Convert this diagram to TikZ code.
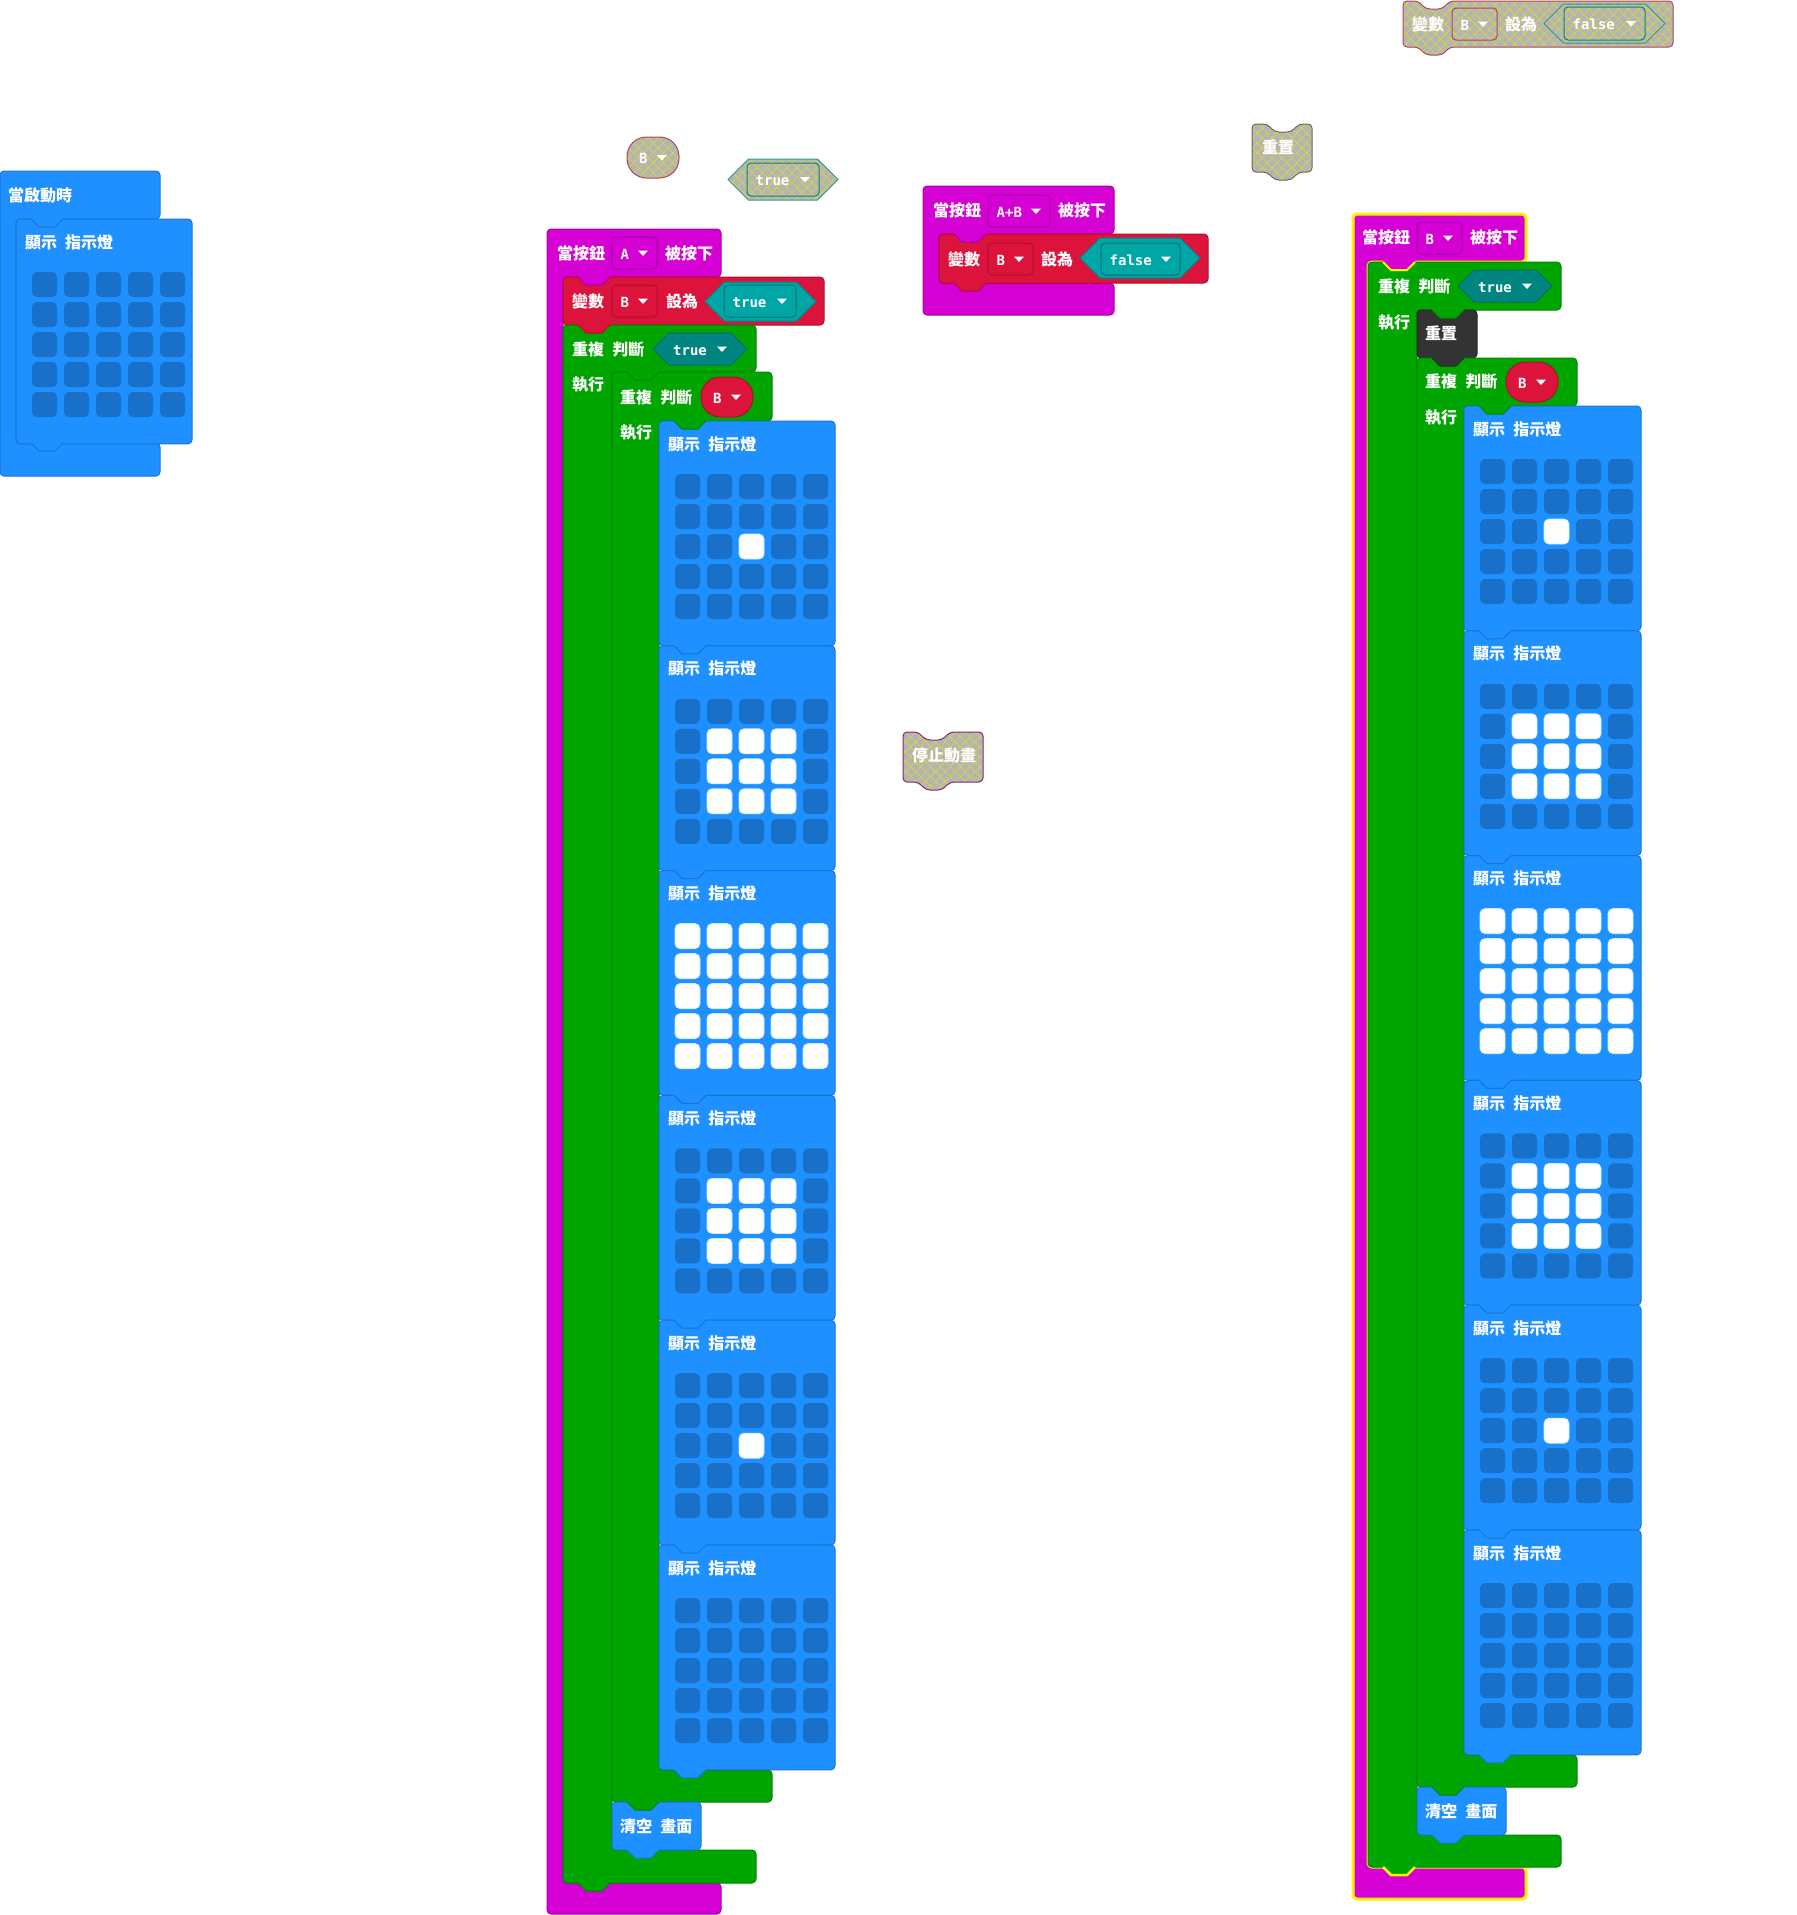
\documentclass[tikz,border=0pt]{standalone}
\usepackage{fontspec}
\usepackage{tikz}
\usetikzlibrary{patterns.meta}
\newfontfamily\cjk{Noto Sans CJK TC}[WordSpace=2.2]
\newfontfamily\ddfont{DejaVu Sans Mono}

\definecolor{evt}{RGB}{212,0,212}
\definecolor{basic}{RGB}{30,144,255}
\definecolor{ledoff}{RGB}{24,112,200}
\definecolor{vars}{RGB}{220,20,60}
\definecolor{loops}{RGB}{0,165,0}
\definecolor{logica}{RGB}{0,165,166}
\definecolor{logicb}{RGB}{0,133,128}
\definecolor{ctrl}{RGB}{51,51,51}
\definecolor{disgrey}{RGB}{180,180,180}
\definecolor{hatch}{RGB}{218,218,50}
\definecolor{selyel}{RGB}{255,242,0}

% block outlines
\newcommand{\cblk}[8]{\path[#1] (#2,#3) -- (#4,#3) -- (#4,#5) -- ({#2+#6},#5) -- ({#2+#6},#7) -- (#4,#7) -- (#4,#8) -- (#2,#8) -- cycle;}
\newcommand{\sblk}[5]{\path[#1] (#2,#3) -- ({#2+15},#3) -- ({#2+23},{#3+8}) -- ({#2+39},{#3+8}) -- ({#2+47},#3) -- (#4,#3) -- (#4,#5) -- ({#2+47},#5) -- ({#2+39},{#5+8}) -- ({#2+23},{#5+8}) -- ({#2+15},#5) -- (#2,#5) -- cycle;}
\newcommand{\ntab}[4]{\fill[#3] ({#1+15},{#2-2}) -- ({#1+15},{#2}) -- ({#1+23},{#2+8}) -- ({#1+39},{#2+8}) -- ({#1+47},{#2}) -- ({#1+47},{#2-2}) -- cycle;
  \draw[line width=1pt,#4] ({#1+15},{#2}) -- ({#1+23},{#2+8}) -- ({#1+39},{#2+8}) -- ({#1+47},{#2});}
\newcommand{\hexa}[5]{\path[#1] (#2,{(#3+#5)/2}) -- ({#2+(#5-#3)/2},#3) -- ({#4-(#5-#3)/2},#3) -- (#4,{(#3+#5)/2}) -- ({#4-(#5-#3)/2},#5) -- ({#2+(#5-#3)/2},#5) -- cycle;}
\newcommand{\pill}[5]{\path[#1, rounded corners=19.5pt] (#2,#3) rectangle (#4,#5);}
\newcommand{\ddarrow}[2]{\fill[white] ({#1},{#2-2.5}) -- ({#1+10},{#2-2.5}) -- ({#1+5},{#2+3}) -- cycle;}
\newcommand{\ddbox}[6]{\path[#1, rounded corners=4pt] (#2,#3) rectangle (#4,#5);
  \node[ddlabel] at ({#2+8.5},{(#3+#5)/2+6}) {#6};
  \ddarrow{#4-19}{(#3+#5)/2}}
% led screen
\newcommand{\leds}[3]{\foreach \r in {0,...,4} \foreach \c in {0,...,4} {
    \pgfmathtruncatemacro\lit{max(abs(\r-2),abs(\c-2))<#3}
    \ifnum\lit=1 \path[ledon] ({#1+16+32*\c},{#2+53+30*\r}) rectangle ++(25,25);
    \else \path[ledoffbox] ({#1+16+32*\c},{#2+53+30*\r}) rectangle ++(25,25);\fi}}
\newcommand{\showblk}[4]{\path[basicbox] (#1,{#2}) rectangle (#3,{#2+224.8});
  \node[lbl] at ({#1+9},{#2+29}) {顯示 指示燈};
  \leds{#1}{#2}{#4}}

\begin{document}
\begin{tikzpicture}[x=1pt,y=-1pt]
        % Setup the styles for the blocks
        \tikzset{lbl/.style={anchor=base west, inner sep=0pt, text=white,
                             font=\cjk\bfseries\fontsize{16}{16}\selectfont},
                 ddlabel/.style={anchor=base west, inner sep=0pt, text=white,
                                 font=\ddfont\bfseries\fontsize{14}{14}\selectfont},
                 evtbox/.style={fill=evt, draw=evt!78!black, line width=1pt, rounded corners=4pt},
                 selbox/.style={evtbox, draw=selyel, line width=3pt},
                 basicbox/.style={fill=basic, draw=basic!82!black, line width=1pt, rounded corners=4pt},
                 varbox/.style={fill=vars, draw=vars!78!black, line width=1pt, rounded corners=4pt},
                 loopbox/.style={fill=loops, draw=loops!80!black, line width=1pt, rounded corners=4pt},
                 ctrlbox/.style={fill=ctrl, draw=ctrl!80!black, line width=1pt, rounded corners=4pt},
                 logicabox/.style={fill=logica, draw=logica!80!black, line width=1pt},
                 logicainner/.style={fill=logica, draw=logica!70!black, line width=1pt},
                 logicbbox/.style={fill=logicb, draw=logicb!80!black, line width=1pt},
                 ledoffbox/.style={fill=ledoff, rounded corners=5pt},
                 ledon/.style={fill=white, draw=white!80!basic, line width=0.8pt, rounded corners=5pt},
                 dis/.style={preaction={fill=disgrey},
                             preaction={pattern={Lines[angle=45,distance=7pt,line width=0.6pt]}, pattern color=hatch},
                             preaction={pattern={Lines[angle=-45,distance=7pt,line width=0.6pt]}, pattern color=hatch},
                             line width=1pt},
                 disvar/.style={dis, draw=vars!55!gray, rounded corners=4pt},
                 dishexa/.style={dis, draw=logica!65!gray},
                 disteal/.style={dis, draw=logicb},
                 disreset/.style={dis, draw=gray!80!black, rounded corners=4pt},
                 disstop/.style={dis, draw=violet!70!gray, rounded corners=4pt}}

        \useasboundingbox (0,0) rectangle (1797,1915);

        % Draw the start block
        \cblk{basicbox}{0}{171}{160}{219}{16}{443}{476}
        \showblk{16}{219}{192}{0}
        \ntab{16}{219}{basic}{basic!82!black}
        \ntab{16}{443}{basic}{basic!82!black}
        \node[lbl] (start) at (8,201) {當啟動時};

        % Draw the button A stack
        \cblk{evtbox}{547}{229}{721}{277}{16}{1883}{1914}
        \path[varbox] (563,277) rectangle (824,325);
        \cblk{loopbox}{563}{325}{756}{372}{49}{1850}{1883}
        \cblk{loopbox}{612}{372}{772}{421}{47}{1770}{1802}
        \foreach \m [count=\i from 0] in {1,2,3,2,1,0} {\showblk{659}{421+224.8*\i}{835}{\m}}
        \path[basicbox] (612,1802) rectangle (701,1850);
        \ntab{563}{277}{evt}{evt!78!black}
        \ntab{563}{325}{vars}{vars!78!black}
        \ntab{612}{372}{loops}{loops!80!black}
        \ntab{659}{421}{loops}{loops!80!black}
        \foreach \i in {1,...,6} {\ntab{659}{421+224.8*\i}{basic}{basic!82!black}}
        \ntab{612}{1802}{loops}{loops!80!black}
        \ntab{612}{1850}{basic}{basic!82!black}
        \ntab{563}{1883}{loops}{loops!80!black}

        \node[lbl] (whenA) at (557,259) {當按鈕};
        \ddbox{evtbox}{612}{237}{657}{269}{A}
        \node[lbl] (pressA) at (665,259) {被按下};
        \node[lbl] (setA) at (572,307) {變數};
        \ddbox{varbox}{612}{285}{657}{317}{B}
        \node[lbl] (toA) at (666,307) {設為};
        \hexa{logicabox}{705}{282}{816}{321}
        \ddbox{logicainner}{724}{285}{796}{317}{true}
        \node[lbl] (whileA) at (572,355) {重複 判斷};
        \hexa{logicbbox}{653}{333}{747}{365}
        \node[ddlabel] (condA) at (673,355) {true};
        \ddarrow{717}{349}
        \node[lbl] (doA) at (572,390) {執行};
        \node[lbl] (whileAA) at (620,403) {重複 判斷};
        \pill{varbox}{701}{377}{753}{417}
        \node[ddlabel] (condAA) at (713,403) {B};
        \ddarrow{731}{397}
        \node[lbl] (doAA) at (620,438) {執行};
        \node[lbl] (clearA) at (620,1832) {清空 畫面};

        % Draw the button A+B stack
        \cblk{evtbox}{923}{186}{1114}{234}{16}{283}{315}
        \path[varbox] (939,234) rectangle (1208,283);
        \ntab{939}{234}{evt}{evt!78!black}
        \ntab{939}{283}{vars}{vars!78!black}
        \node[lbl] (whenAB) at (933,216) {當按鈕};
        \ddbox{evtbox}{988}{195}{1050}{227}{A+B}
        \node[lbl] (pressAB) at (1058,216) {被按下};
        \node[lbl] (setAB) at (948,265) {變數};
        \ddbox{varbox}{988}{243}{1033}{275}{B}
        \node[lbl] (toAB) at (1041,265) {設為};
        \hexa{logicabox}{1080}{238}{1200}{278}
        \ddbox{logicainner}{1101}{243}{1180}{275}{false}

        % Draw the button B stack
        \cblk{selbox}{1353}{214}{1526}{262}{15}{1867}{1899}
        \cblk{loopbox}{1368}{262}{1561}{310}{49}{1835}{1867}
        \path[ctrlbox] (1417,310) rectangle (1477,358);
        \cblk{loopbox}{1417}{358}{1577}{406}{47}{1755}{1787}
        \foreach \m [count=\i from 0] in {1,2,3,2,1,0} {\showblk{1464}{406+224.8*\i}{1641}{\m}}
        \path[basicbox] (1417,1787) rectangle (1506,1835);
        \ntab{1368}{262}{evt}{selyel, line width=2pt}
        \ntab{1417}{310}{loops}{loops!80!black}
        \ntab{1417}{358}{ctrl}{ctrl!80!black}
        \ntab{1464}{406}{loops}{loops!80!black}
        \foreach \i in {1,...,6} {\ntab{1464}{406+224.8*\i}{basic}{basic!82!black}}
        \ntab{1417}{1787}{loops}{loops!80!black}
        \ntab{1417}{1835}{basic}{basic!82!black}
        \ntab{1368}{1867}{loops}{selyel, line width=2.5pt}

        \node[lbl] (whenB) at (1362,243) {當按鈕};
        \ddbox{evtbox}{1417}{222}{1462}{254}{B}
        \node[lbl] (pressB) at (1470,243) {被按下};
        \node[lbl] (whileB) at (1378,292) {重複 判斷};
        \hexa{logicbbox}{1458}{270}{1552}{302}
        \node[ddlabel] (condB) at (1478,292) {true};
        \ddarrow{1522}{286}
        \node[lbl] (doB) at (1378,328) {執行};
        \node[lbl] (resetB) at (1425,339) {重置};
        \node[lbl] (whileBB) at (1425,387) {重複 判斷};
        \pill{varbox}{1506}{362}{1558}{402}
        \node[ddlabel] (condBB) at (1518,388) {B};
        \ddarrow{1536}{382}
        \node[lbl] (doBB) at (1425,423) {執行};
        \node[lbl] (clearB) at (1425,1817) {清空 畫面};

        % Draw the disabled blocks
        \pill{disvar}{627}{137}{679}{178}
        \node[ddlabel] (ghostB) at (639,163.5) {B};
        \ddarrow{657}{157.5}
        \hexa{dishexa}{728}{159}{838}{200}
        \ddbox{disteal}{747}{163}{819}{196}{true}
        \sblk{disreset}{1252}{124}{1312}{172}
        \node[lbl] (ghostreset) at (1262,153) {重置};
        \sblk{disstop}{903}{732}{983}{782}
        \node[lbl] (ghoststop) at (912,761) {停止動畫};
        \sblk{disvar}{1403}{1}{1673}{47}
        \node[lbl] (ghostset) at (1412,30) {變數};
        \ddbox{disvar}{1452}{8}{1497}{40}{B}
        \node[lbl] (ghostto) at (1505,30) {設為};
        \hexa{dishexa}{1544}{4}{1665}{43}
        \ddbox{disteal}{1564}{7}{1645}{40}{false}
\end{tikzpicture}
\end{document}
